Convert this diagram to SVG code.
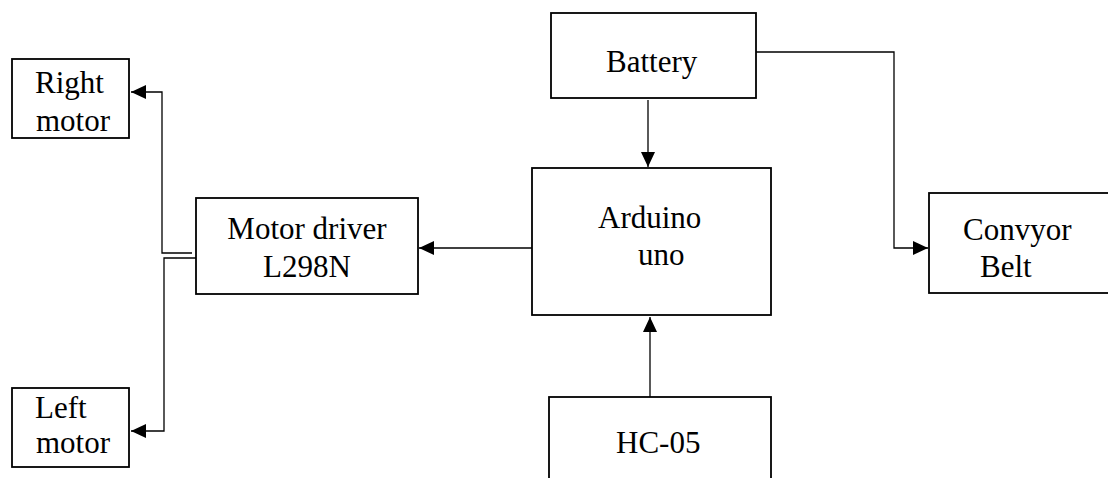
<svg xmlns="http://www.w3.org/2000/svg" width="1108" height="478" viewBox="0 0 1108 478">
<style>
.box{fill:#fff;stroke:#000;stroke-width:1.8}
.lbl{font-family:"Liberation Serif","Times New Roman",serif;font-size:31px;fill:#000}
.con{fill:none;stroke:#000;stroke-width:1.3}
</style>
<defs>
<marker id="ah" viewBox="0 0 15 14" refX="15" refY="7" markerWidth="15" markerHeight="14" markerUnits="userSpaceOnUse" orient="auto">
<path d="M0,0 L15,7 L0,14 z" fill="#000"/>
</marker>
</defs>
<rect width="1108" height="478" fill="#fff"/>
<g id="connectors">
<path class="con" d="M532,248 H419" marker-end="url(#ah)"/>
<path class="con" d="M648,100 V167" marker-end="url(#ah)"/>
<path class="con" d="M650,397 V317" marker-end="url(#ah)"/>
<path class="con" d="M753,52 H894 V248 H928" marker-end="url(#ah)"/>
<path class="con" d="M192,253 H162 V92 H131" marker-end="url(#ah)"/>
<path class="con" d="M196,258 H164 V431 H131" marker-end="url(#ah)"/>
</g>
<g id="right-motor">
<rect class="box" x="12" y="59" width="117" height="79"/>
<text class="lbl" x="35" y="93">Right</text>
<text class="lbl" x="36" y="131">motor</text>
</g>
<g id="left-motor">
<rect class="box" x="12" y="388" width="117" height="79"/>
<text class="lbl" x="35" y="418">Left</text>
<text class="lbl" x="36" y="453">motor</text>
</g>
<g id="motor-driver">
<rect class="box" x="196" y="198" width="222" height="96"/>
<text class="lbl" x="307" y="239" text-anchor="middle">Motor driver</text>
<text class="lbl" x="307" y="277" text-anchor="middle">L298N</text>
</g>
<g id="arduino">
<rect class="box" x="532" y="168" width="239" height="147"/>
<text class="lbl" x="598" y="228">Arduino</text>
<text class="lbl" x="638" y="265">uno</text>
</g>
<g id="battery">
<rect class="box" x="551" y="13" width="205" height="85"/>
<text class="lbl" x="606" y="72">Battery</text>
</g>
<g id="hc05">
<rect class="box" x="549" y="397" width="222" height="100"/>
<text class="lbl" x="616" y="453">HC-05</text>
</g>
<g id="conveyor">
<rect class="box" x="929" y="193" width="200" height="100"/>
<text class="lbl" x="963" y="240">Convyor</text>
<text class="lbl" x="980" y="277">Belt</text>
</g>
</svg>
